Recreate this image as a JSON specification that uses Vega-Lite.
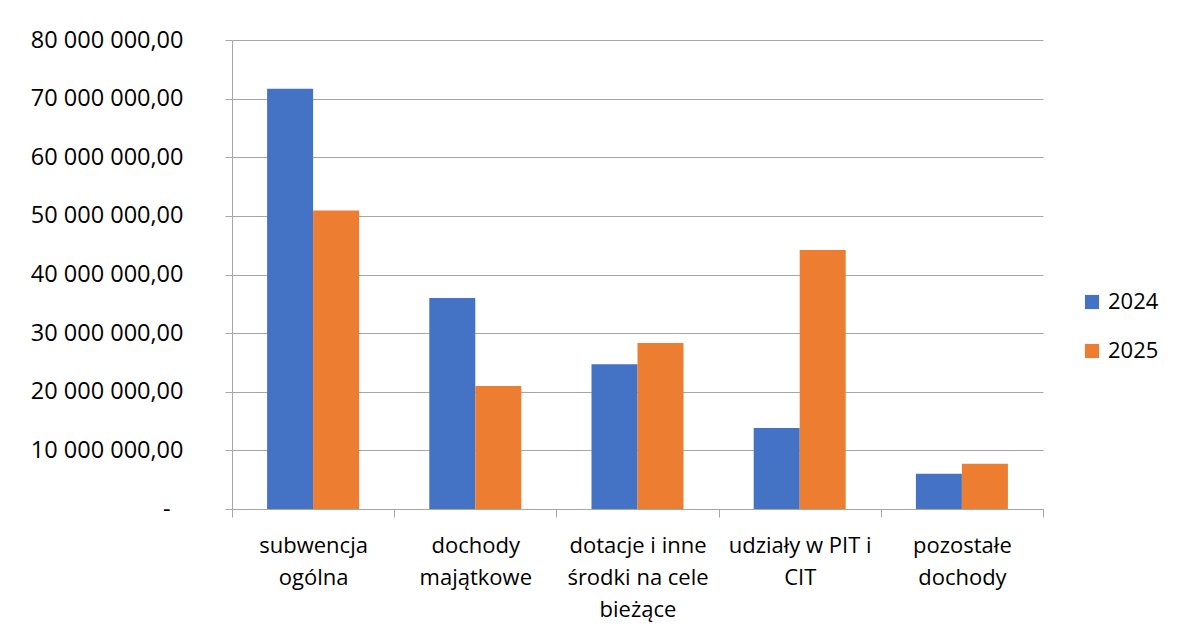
{
  "$schema": "https://vega.github.io/schema/vega-lite/v6.json",
  "width": 811,
  "height": 469,
  "autosize": {"type": "none"},
  "padding": {"left": 232, "top": 40, "right": 138, "bottom": 121},
  "background": "white",
  "config": {
    "view": {"stroke": null},
    "font": "Open Sans",
    "locale": {"number": {"decimal": ",", "thousands": " ", "grouping": [3], "currency": ["", ""]}}
  },
  "data": {
    "values": [
      {"kategoria": "subwencja ogólna", "rok": "2024", "kwota": 71700000},
      {"kategoria": "subwencja ogólna", "rok": "2025", "kwota": 50900000},
      {"kategoria": "dochody majątkowe", "rok": "2024", "kwota": 36000000},
      {"kategoria": "dochody majątkowe", "rok": "2025", "kwota": 21000000},
      {"kategoria": "dotacje i inne środki na cele bieżące", "rok": "2024", "kwota": 24700000},
      {"kategoria": "dotacje i inne środki na cele bieżące", "rok": "2025", "kwota": 28300000},
      {"kategoria": "udziały w PIT i CIT", "rok": "2024", "kwota": 13800000},
      {"kategoria": "udziały w PIT i CIT", "rok": "2025", "kwota": 44200000},
      {"kategoria": "pozostałe dochody", "rok": "2024", "kwota": 6000000},
      {"kategoria": "pozostałe dochody", "rok": "2025", "kwota": 7700000}
    ]
  },
  "mark": {"type": "bar"},
  "encoding": {
    "x": {
      "field": "kategoria",
      "type": "nominal",
      "sort": null,
      "scale": {"paddingInner": 0, "paddingOuter": 0},
      "axis": {
        "title": null,
        "labelAngle": 0,
        "tickBand": "extent",
        "domainColor": "#a6a6a6",
        "tickColor": "#a6a6a6",
        "tickSize": 8,
        "grid": false,
        "labelFontSize": 22,
        "labelColor": "#000000",
        "labelPadding": 18,
        "labelLineHeight": 32,
        "labelLimit": 300,
        "labelExpr": "datum.value == 'subwencja ogólna' ? ['subwencja', 'ogólna'] : datum.value == 'dochody majątkowe' ? ['dochody', 'majątkowe'] : datum.value == 'dotacje i inne środki na cele bieżące' ? ['dotacje i inne', 'środki na cele', 'bieżące'] : datum.value == 'udziały w PIT i CIT' ? ['udziały w PIT i', 'CIT'] : datum.value == 'pozostałe dochody' ? ['pozostałe', 'dochody'] : ''"
      }
    },
    "xOffset": {
      "field": "rok",
      "type": "nominal",
      "scale": {"paddingInner": 0, "paddingOuter": 0.763}
    },
    "y": {
      "field": "kwota",
      "type": "quantitative",
      "scale": {"domain": [0, 80000000], "nice": false},
      "axis": {
        "title": null,
        "values": [0, 10000000, 20000000, 30000000, 40000000, 50000000, 60000000, 70000000, 80000000],
        "format": ",.2f",
        "labelExpr": "datum.value == 0 ? '-' : datum.label",
        "grid": true,
        "gridColor": "#a6a6a6",
        "gridWidth": 1,
        "domainColor": "#a6a6a6",
        "tickColor": "#a6a6a6",
        "tickSize": 7,
        "labelPadding": {"condition": {"test": "datum.value == 0", "value": 55}, "value": 42},
        "labelFontSize": 23.5,
        "labelColor": "#000000"
      }
    },
    "color": {
      "field": "rok",
      "type": "nominal",
      "scale": {"domain": ["2024", "2025"], "range": ["#4472C4", "#ED7D31"]},
      "legend": {
        "title": null,
        "orient": "none",
        "legendX": 849,
        "legendY": 251,
        "padding": 0,
        "symbolType": "square",
        "symbolSize": 200,
        "symbolStrokeWidth": 0,
        "labelFontSize": 22,
        "labelColor": "#000000",
        "labelOffset": 5,
        "rowPadding": 27
      }
    }
  }
}
